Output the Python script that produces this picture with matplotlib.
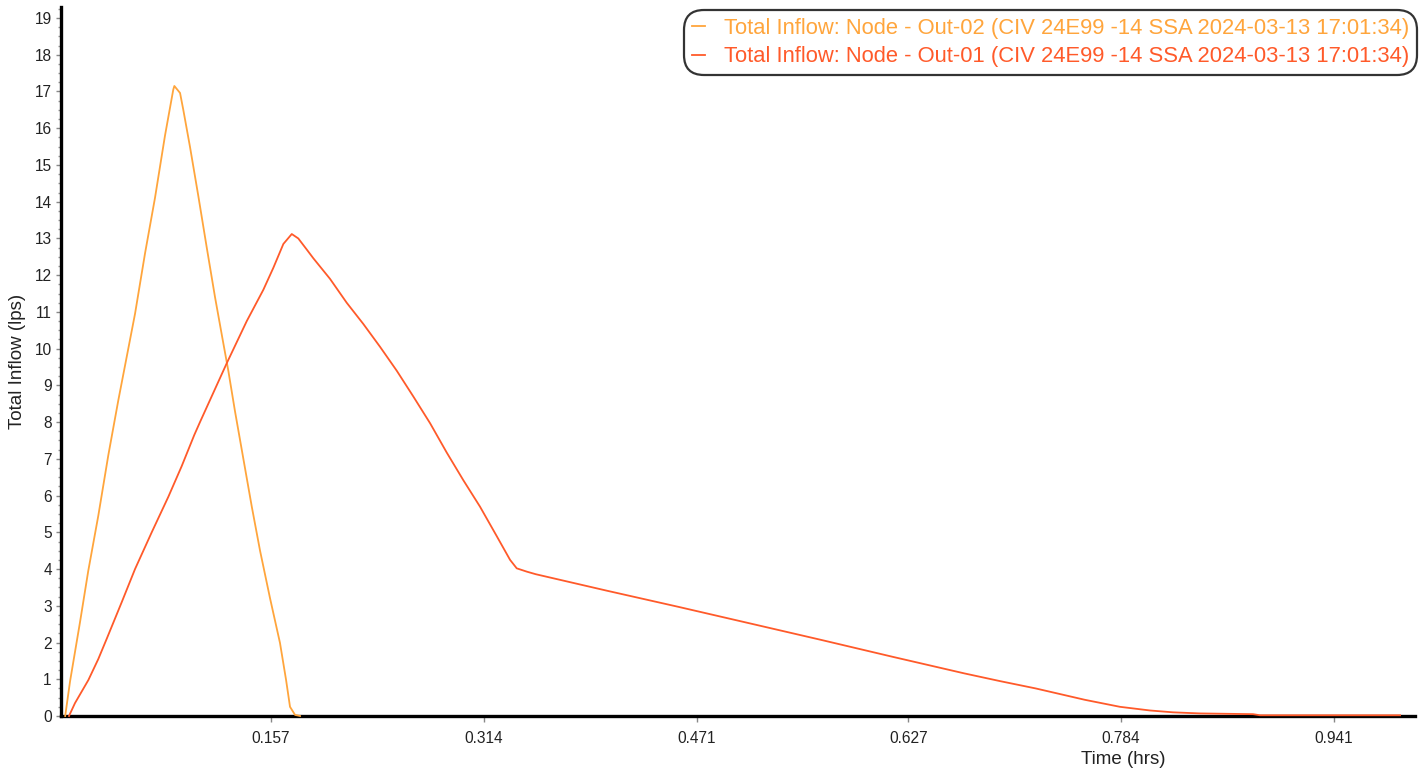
import matplotlib
matplotlib.use("Agg")
import matplotlib.pyplot as plt
from matplotlib.ticker import FixedLocator, MultipleLocator

plt.rcParams['font.family'] = ['Liberation Sans', 'DejaVu Sans']

# ---- data ----
out02_time = [0.0052, 0.0088, 0.0161, 0.0222, 0.0296, 0.0370, 0.0444, 0.0567, 0.0641,
              0.0714, 0.0788, 0.0849, 0.0857, 0.0899, 0.0923, 0.0972, 0.1034, 0.1096,
              0.1157, 0.1218, 0.1255, 0.1304, 0.1366, 0.1428, 0.1489, 0.1563, 0.1636,
              0.1681, 0.1710, 0.1747, 0.1784]
out02_flow = [0.0, 0.95, 2.55, 3.95, 5.45, 7.1, 8.6, 10.95, 12.6,
              14.1, 15.8, 17.05, 17.15, 16.96, 16.5, 15.5, 14.15, 12.75,
              11.4, 10.15, 9.4, 8.3, 7.0, 5.7, 4.5, 3.2, 1.99,
              0.98, 0.25, 0.03, 0.0]

out01_time = [0.0080, 0.0124, 0.0223, 0.0296, 0.0358, 0.0469, 0.0567, 0.0690, 0.0813,
              0.0911, 0.1004, 0.1046, 0.1243, 0.1391, 0.1513, 0.1587, 0.1661, 0.1723,
              0.1771, 0.1833, 0.1882, 0.2005, 0.2128, 0.2251, 0.2374, 0.2497, 0.2619,
              0.2743, 0.2866, 0.2988, 0.3111, 0.3234, 0.3333, 0.3382, 0.3456, 0.3522,
              0.4048, 0.4576, 0.5103, 0.5629, 0.6156, 0.6683, 0.6946, 0.7210, 0.7573,
              0.7831, 0.8053, 0.8222, 0.8421, 0.8812, 0.8864, 0.9897]
out01_flow = [0.0, 0.35, 0.98, 1.55, 2.1, 3.1, 4.0, 5.0, 5.97,
              6.8, 7.65, 8.0, 9.6, 10.75, 11.6, 12.2, 12.85, 13.12,
              13.0, 12.7, 12.46, 11.9, 11.25, 10.67, 10.05, 9.4, 8.7,
              7.97, 7.17, 6.42, 5.70, 4.9, 4.25, 4.02, 3.93, 3.86,
              3.41, 2.97, 2.52, 2.07, 1.61, 1.16, 0.95, 0.75, 0.44,
              0.25, 0.15, 0.10, 0.07, 0.05, 0.02, 0.02]

x_tick_labels = ['0.157', '0.314', '0.471', '0.627', '0.784', '0.941']
y_tick_values = list(range(0, 20))

label_out02 = 'Total Inflow: Node - Out-02 (CIV 24E99 -14 SSA 2024-03-13 17:01:34)'
label_out01 = 'Total Inflow: Node - Out-01 (CIV 24E99 -14 SSA 2024-03-13 17:01:34)'

color_out02 = '#ffa53c'
color_out01 = '#ff5a2a'

# ---- figure ----
W, H = 1427, 771
fig = plt.figure(figsize=(W / 100, H / 100), dpi=100)
ax = fig.add_axes([61 / W, 55 / H, (1415 - 61) / W, (764 - 55) / H])

ax.plot(out02_time, out02_flow, color=color_out02, lw=1.3, label=label_out02,
        zorder=3, clip_on=False)
ax.plot(out01_time, out01_flow, color=color_out01, lw=1.3, label=label_out01,
        zorder=3, clip_on=False)

ax.set_xlim(0.0021, 1.0007)
ax.set_ylim(0, 19.3)

ax.spines['top'].set_visible(False)
ax.spines['right'].set_visible(False)
for s in ('left', 'bottom'):
    ax.spines[s].set_linewidth(2.4)
    ax.spines[s].set_color('black')

ax.xaxis.set_major_locator(FixedLocator([float(t) for t in x_tick_labels]))
ax.set_xticklabels(x_tick_labels)
ax.yaxis.set_major_locator(FixedLocator(y_tick_values))
ax.set_yticklabels([str(v) for v in y_tick_values])
ax.yaxis.set_minor_locator(MultipleLocator(0.25))

ax.tick_params(axis='x', which='major', length=4, width=1, color='#888888',
               pad=6.5, labelsize=11.2, labelcolor='#222222')
ax.tick_params(axis='y', which='major', length=3.6, width=1, color='#888888',
               pad=3, labelsize=11.2, labelcolor='#222222')
ax.tick_params(axis='y', which='minor', length=2.5, width=1, color='#999999')

ax.set_xlabel('Time (hrs)', fontsize=13.5, color='#222222')
ax.xaxis.set_label_coords((1123 - 61) / (1415 - 61), -(760 - 716) / (716 - 7))
ax.xaxis.label.set_verticalalignment('center')
ax.set_ylabel('Total Inflow (lps)', fontsize=13.5, color='#222222')
ax.yaxis.set_label_coords(-(61 - 17) / (1415 - 61), (716 - 361) / (716 - 7))
ax.yaxis.label.set_verticalalignment('center')

leg = ax.legend(loc='upper right', bbox_to_anchor=(1.0015, 0.9958), fontsize=15.8,
                labelcolor='linecolor', frameon=True, fancybox=True,
                handlelength=0.6, handletextpad=0.85, borderpad=0.36,
                labelspacing=0.34, borderaxespad=0.0)
frame = leg.get_frame()
frame.set_edgecolor('#333333')
frame.set_linewidth(1.6)
frame.set_facecolor('white')
frame.set_alpha(1.0)
frame.set_boxstyle('round,pad=0,rounding_size=0.9')

fig.savefig('out.png', dpi=100)
